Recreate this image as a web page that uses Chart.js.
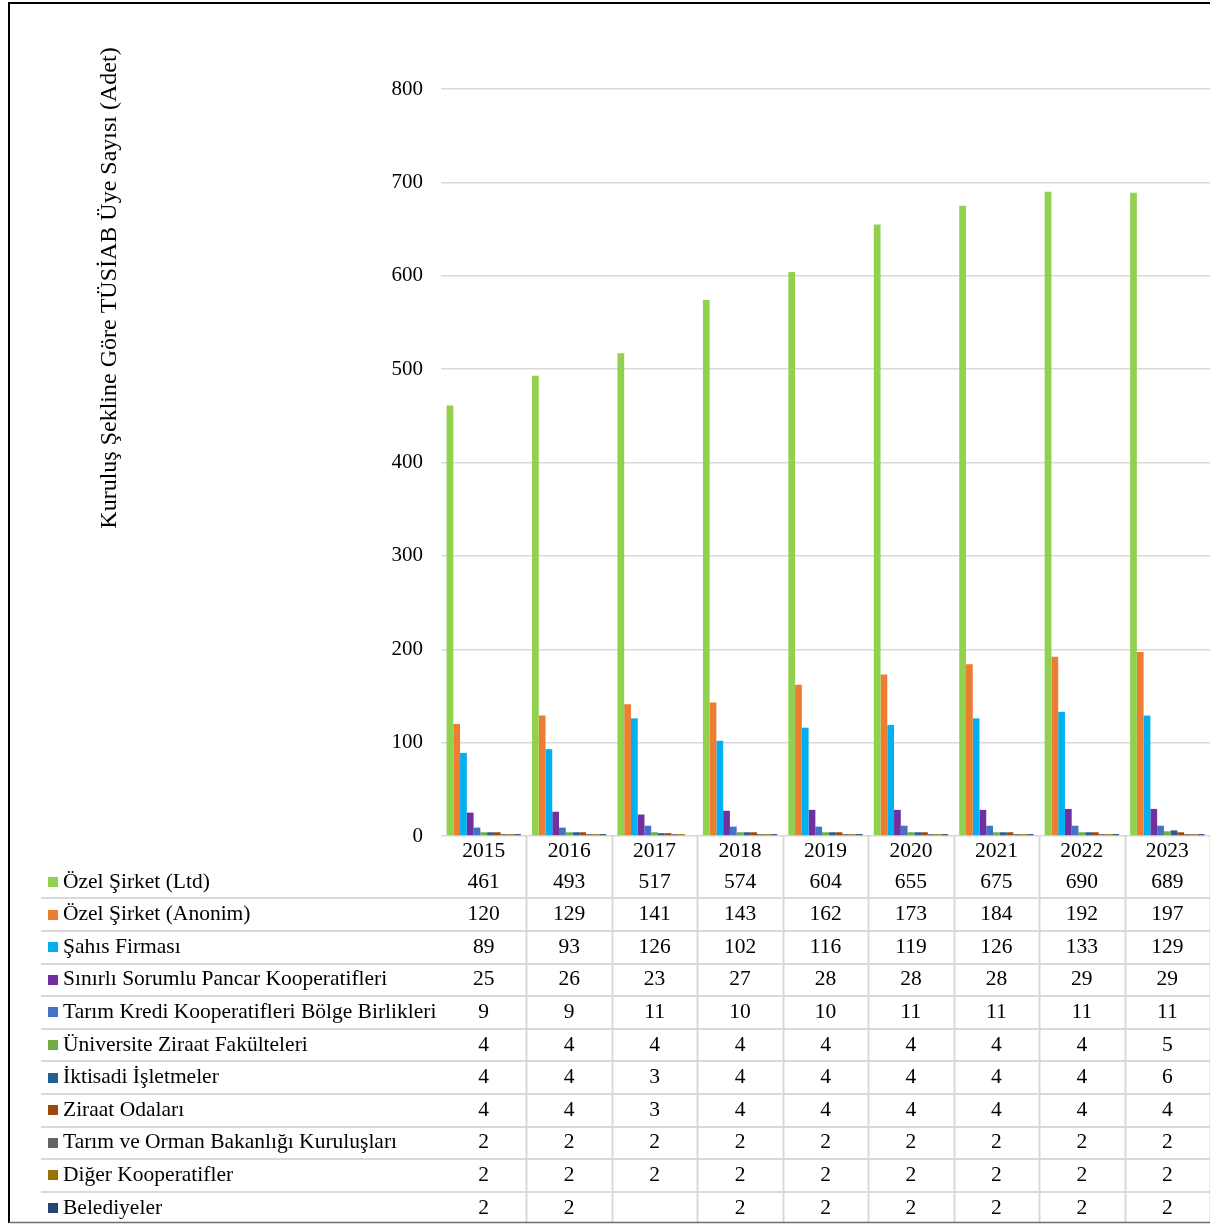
<!DOCTYPE html>
<html>
<head>
<meta charset="utf-8">
<script src="https://cdn.jsdelivr.net/npm/chart.js@4/dist/chart.umd.min.js"></script>
<style>
  html, body { margin: 0; padding: 0; background: #fff; }
  #wrap { width: 1210px; height: 1224px; position: relative; }
</style>
</head>
<body>
<div id="wrap"><canvas id="c" width="1210" height="1224"></canvas></div>
<script>
// Years (categories)
const years = ['2015', '2016', '2017', '2018', '2019', '2020', '2021', '2022', '2023'];

// Member counts by organisation type
const ozelLtd        = [461, 493, 517, 574, 604, 655, 675, 690, 689];
const ozelAnonim     = [120, 129, 141, 143, 162, 173, 184, 192, 197];
const sahisFirmasi   = [89, 93, 126, 102, 116, 119, 126, 133, 129];
const pancarKoop     = [25, 26, 23, 27, 28, 28, 28, 29, 29];
const tarimKredi     = [9, 9, 11, 10, 10, 11, 11, 11, 11];
const universite     = [4, 4, 4, 4, 4, 4, 4, 4, 5];
const iktisadi       = [4, 4, 3, 4, 4, 4, 4, 4, 6];
const ziraatOdalari  = [4, 4, 3, 4, 4, 4, 4, 4, 4];
const bakanlik       = [2, 2, 2, 2, 2, 2, 2, 2, 2];
const digerKoop      = [2, 2, 2, 2, 2, 2, 2, 2, 2];
const belediyeler    = [2, 2, null, 2, 2, 2, 2, 2, 2];

const seriesNames = [
  'Özel Şirket (Ltd)',
  'Özel Şirket (Anonim)',
  'Şahıs Firması',
  'Sınırlı Sorumlu Pancar Kooperatifleri',
  'Tarım Kredi Kooperatifleri Bölge Birlikleri',
  'Üniversite Ziraat Fakülteleri',
  'İktisadi İşletmeler',
  'Ziraat Odaları',
  'Tarım ve Orman Bakanlığı Kuruluşları',
  'Diğer Kooperatifler',
  'Belediyeler'
];
const seriesValues = [ozelLtd, ozelAnonim, sahisFirmasi, pancarKoop, tarimKredi,
  universite, iktisadi, ziraatOdalari, bakanlik, digerKoop, belediyeler];
const seriesColors = ['#92D050', '#ED7D31', '#00B0F0', '#7030A0', '#4472C4',
  '#70AD47', '#255E91', '#9E480E', '#636363', '#997300', '#264478'];

const yTitle = 'Kuruluş Şekline Göre TÜSİAB Üye Sayısı (Adet)';
const FONT = '"Liberation Serif", "Times New Roman", serif';

// Data table under the plot + frame + rotated axis title
const tablePlugin = {
  id: 'dataTable',
  afterDraw(chart) {
    const ctx = chart.ctx;
    const x = chart.scales.x;
    const area = chart.chartArea;
    const n = years.length;
    const colW = (area.right - area.left) / n;
    const rowH = 32.6;
    const yearY = area.bottom + 15;
    const firstRowY = area.bottom + 46;
    const tableBottom = 1222;
    ctx.save();

    // grid lines of the table
    ctx.strokeStyle = '#d9d9d9';
    ctx.lineWidth = 2;
    for (let r = 0; r < seriesNames.length - 1; r++) {
      const ly = Math.round(firstRowY + rowH * r + rowH / 2);
      ctx.beginPath();
      ctx.moveTo(41, ly);
      ctx.lineTo(area.right, ly);
      ctx.stroke();
    }
    for (let k = 1; k <= n; k++) {
      const lx = Math.round(area.left + colW * k) + 0.5;
      ctx.beginPath();
      ctx.moveTo(lx, area.bottom);
      ctx.lineTo(lx, tableBottom);
      ctx.stroke();
    }

    // year labels
    ctx.fillStyle = '#000';
    ctx.font = '21.5px ' + FONT;
    ctx.textAlign = 'center';
    ctx.textBaseline = 'middle';
    years.forEach((yr, i) => ctx.fillText(yr, x.getPixelForValue(i), yearY));

    // rows
    seriesNames.forEach((name, r) => {
      const cy = firstRowY + rowH * r;
      ctx.fillStyle = seriesColors[r];
      ctx.fillRect(48, Math.round(cy - 5), 10, 10);
      ctx.fillStyle = '#000';
      ctx.textAlign = 'left';
      ctx.fillText(name, 63, cy);
      ctx.textAlign = 'center';
      seriesValues[r].forEach((v, i) => {
        if (v !== null && v !== undefined) ctx.fillText(String(v), x.getPixelForValue(i), cy);
      });
    });

    // rotated axis title
    ctx.save();
    ctx.translate(110, 288);
    ctx.rotate(-Math.PI / 2);
    ctx.font = '24px ' + FONT;
    ctx.textAlign = 'center';
    ctx.textBaseline = 'middle';
    ctx.fillStyle = '#000';
    ctx.fillText(yTitle, 0, 0);
    ctx.restore();

    // frame
    ctx.strokeStyle = '#000';
    ctx.lineWidth = 2;
    ctx.beginPath();
    ctx.moveTo(9, 1223);
    ctx.lineTo(9, 3);
    ctx.lineTo(1210, 3);
    ctx.stroke();
    ctx.strokeStyle = '#6e6e6e';
    ctx.lineWidth = 1.5;
    ctx.beginPath();
    ctx.moveTo(9, 1222.5);
    ctx.lineTo(1210, 1222.5);
    ctx.stroke();
    ctx.restore();
  }
};

new Chart(document.getElementById('c'), {
  type: 'bar',
  data: {
    labels: years,
    datasets: seriesNames.map((name, i) => ({
      label: name,
      data: seriesValues[i],
      backgroundColor: seriesColors[i],
      borderWidth: 0,
      categoryPercentage: 0.87,
      barPercentage: 1.0
    }))
  },
  options: {
    responsive: false,
    animation: false,
    layout: { padding: { top: 89, right: 0, bottom: 0, left: 0 } },
    plugins: {
      legend: { display: false },
      tooltip: { enabled: false }
    },
    scales: {
      x: {
        grid: { display: false },
        border: { display: false },
        ticks: { display: false },
        afterFit(scale) { scale.height = 388; }
      },
      y: {
        min: 0,
        max: 800,
        ticks: {
          stepSize: 100,
          padding: 18,
          color: '#000',
          font: { family: FONT, size: 21 }
        },
        grid: { color: '#d9d9d9', lineWidth: 1.5, drawTicks: false },
        border: { display: false },
        afterFit(scale) { scale.width = 441; }
      }
    }
  },
  plugins: [tablePlugin]
});
</script>
</body>
</html>
